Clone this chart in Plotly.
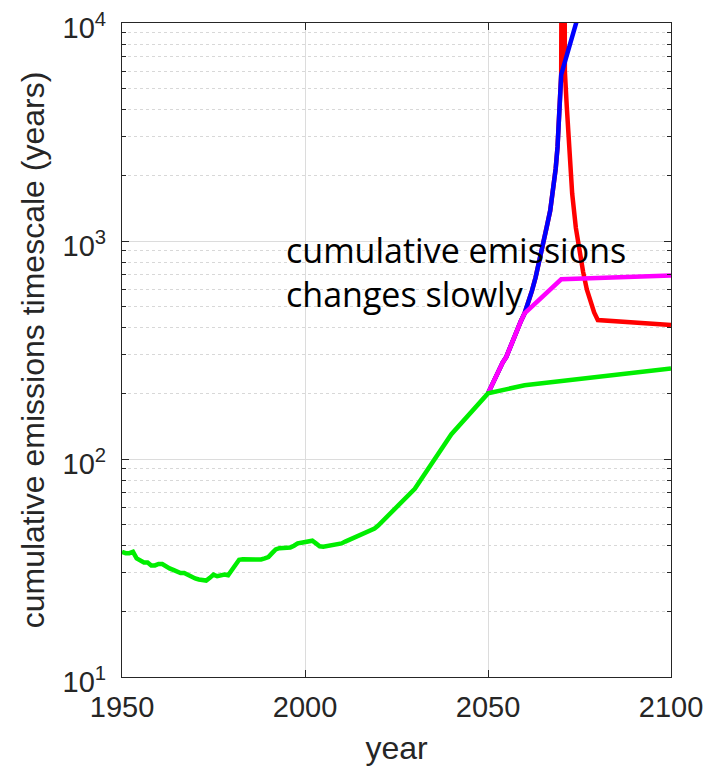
import plotly.graph_objects as go

# ---- data ----
hist_years = list(range(1950, 2021)) + [2030, 2040, 2050, 2060, 2100]
green_vals = [37.5, 37, 37, 37.5, 35, 34, 33.5, 33.5, 32.5, 32.5,
              33, 33, 32, 31.5, 31, 30.5, 30, 30, 29.3, 29,
              28.3, 28, 28, 27.7, 28.5, 29.5, 29, 29.2, 29.5, 29.3,
              31, 33, 34.5, 34.7, 34.7, 34.6, 34.5, 34.5, 34.6, 35,
              35.5, 37, 38.5, 39, 39, 39.2, 39.3, 40, 41, 41.3,
              41.5, 42, 42.2, 41, 39.8, 39.6, 39.8, 40, 40.2, 40.5,
              41, 41.8, 42.5, 43.3, 44, 44.8, 45.5, 46.3, 47, 48,
              49.5, 73, 130, 200, 218, 260]

early_years = list(range(2050, 2061))
early_vals = [200, 218, 236, 256, 277, 294, 325, 360, 395, 430, 466]

magenta_years = early_years + [2070, 2100]
magenta_vals = early_vals + [667, 695]

blue_years = [2050, 2051, 2052, 2053, 2054, 2055, 2056, 2057, 2058, 2059, 2060,
              2061, 2062, 2063, 2064, 2065, 2066, 2067, 2068, 2068.5, 2069,
              2069.5, 2070, 2080]
blue_vals = early_vals + [520, 590, 680, 800, 960, 1150, 1380, 1800, 2150, 2700,
                          3700, 5800, 22000]

red_years = blue_years[:-1] + [2070.5, 2071, 2071.5, 2072, 2073, 2074, 2075,
                               2076, 2077, 2078, 2079, 2080, 2100]
red_vals = blue_vals[:-1] + [1e7, 6000, 4200, 3000, 1650, 1150, 880, 720, 600,
                             520, 470, 434, 412]

x_ticks = [1950, 2000, 2050, 2100]
y_ticks = [10, 100, 1000, 10000]
y_ticktext = ["10<sup>1</sup>", "10<sup>2</sup>", "10<sup>3</sup>", "10<sup>4</sup>"]
y_minor = [m * d for d in (10, 100, 1000) for m in range(2, 10)]

fig = go.Figure()
lw = 4.5
fig.add_trace(go.Scatter(x=red_years, y=red_vals, mode="lines",
                         line=dict(color="#ff0000", width=lw), showlegend=False))
fig.add_trace(go.Scatter(x=blue_years, y=blue_vals, mode="lines",
                         line=dict(color="#0000ff", width=lw), showlegend=False))
fig.add_trace(go.Scatter(x=magenta_years, y=magenta_vals, mode="lines",
                         line=dict(color="#ff00ff", width=lw), showlegend=False))
fig.add_trace(go.Scatter(x=hist_years, y=green_vals, mode="lines",
                         line=dict(color="#00ee00", width=lw), showlegend=False))

axis_col = "#262626"
# the page body adds an 8 px offset, so the figure is 704 x 770
fig.update_layout(
    width=704, height=770,
    margin=dict(l=114, r=41, t=15, b=101),
    paper_bgcolor="white", plot_bgcolor="white",
    font=dict(family="Liberation Sans, Arial, sans-serif", color=axis_col, size=29),
    xaxis=dict(range=[1950, 2100], tickmode="array", tickvals=x_ticks,
               automargin=False, ticklabeloverflow="allow", ticklabelstandoff=4,
               ticks="inside", ticklen=7, tickcolor=axis_col,
               showline=True, linecolor=axis_col, linewidth=1.2, mirror="ticks",
               showgrid=True, gridcolor="#dcdcdc", gridwidth=1, zeroline=False,
               title=dict(text="year", font=dict(size=32), standoff=14),
               tickfont=dict(size=29)),
    yaxis=dict(type="log", range=[1, 4], tickmode="array", tickvals=y_ticks,
               ticktext=y_ticktext, automargin=False, ticklabelstandoff=9,
               ticklabeloverflow="allow", ticklabelshift=5,
               ticks="inside", ticklen=7, tickcolor=axis_col,
               showline=True, linecolor=axis_col, linewidth=1.2, mirror="ticks",
               showgrid=True, gridcolor="#dcdcdc", gridwidth=1, zeroline=False,
               minor=dict(tickmode="array", tickvals=y_minor, ticks="inside",
                          ticklen=4, tickcolor=axis_col, showgrid=True,
                          gridcolor="#d8d8d8", griddash="dot", gridwidth=1),
               title=dict(text="cumulative emissions timescale (years)",
                          font=dict(size=32), standoff=8),
               tickfont=dict(size=29)),
    annotations=[dict(x=1994.2, y=0.619, xref="x", yref="paper",
                      xanchor="left", yanchor="middle", showarrow=False,
                      align="left",
                      text="cumulative emissions<br>changes slowly",
                      font=dict(family="Open Sans, sans-serif", size=34, color="black"))],
)

fig.write_html("out.html")
